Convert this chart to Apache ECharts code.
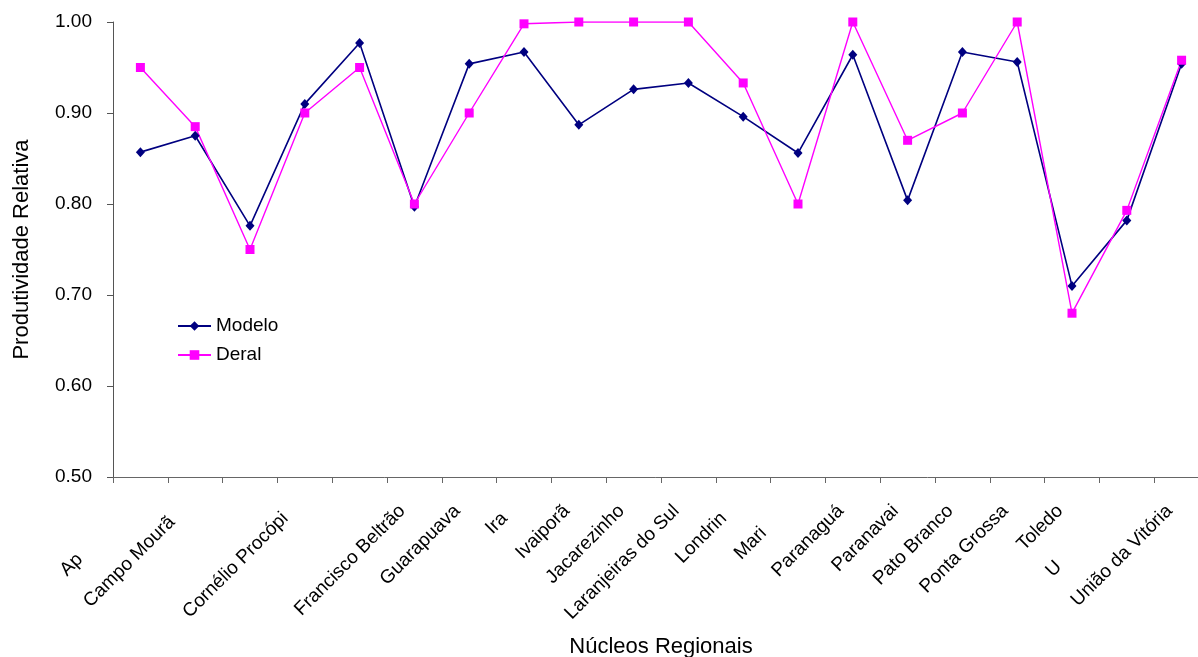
<!DOCTYPE html>
<html>
<head>
<meta charset="utf-8">
<script src="https://cdn.jsdelivr.net/npm/echarts@6/dist/echarts.min.js"></script>
<style>
html,body{margin:0;padding:0;background:#fff;}
#chart{width:1198px;height:657px;}
</style>
</head>
<body>
<div id="chart"></div>
<script>
// Categories (Núcleos Regionais)
var categories = ["Apucarana","Campo Mourão","Cascavel","Cornélio Procópio","Curitiba","Francisco Beltrão","Guarapuava","Irati","Ivaiporã","Jacarezinho","Laranjeiras do Sul","Londrina","Maringá","Paranaguá","Paranavai","Pato Branco","Ponta Grossa","Toledo","Umuarama","União da Vitória"];
// Tick labels as visible in the reference (some clipped / hidden)
var tickLabels = ["Ap","Campo Mourã","","Cornélio Procópi","","Francisco Beltrão","Guarapuava","Ira","Ivaiporã","Jacarezinho","Laranjeiras do Sul","Londrin","Mari","Paranaguá","Paranavai","Pato Branco","Ponta Grossa","Toledo","U","União da Vitória"];
// trailing blank count for clipped labels (keeps them where the full text would be)
var tickPad = [13,3,0,2,0,0,0,2,0,0,0,2,6,0,0,0,0,0,15,0];
var modelo = [0.857,0.875,0.776,0.910,0.977,0.797,0.954,0.967,0.887,0.926,0.933,0.896,0.856,0.964,0.804,0.967,0.956,0.710,0.782,0.954];
var deral  = [0.950,0.885,0.750,0.900,0.950,0.800,0.900,0.998,1.000,1.000,1.000,0.933,0.800,1.000,0.870,0.900,1.000,0.680,0.793,0.958];
var yTicks = {min:0.5, max:1.0, interval:0.1};

var FONT = "'Liberation Sans', Arial, sans-serif";
var chart = echarts.init(document.getElementById('chart'), null, {renderer:'canvas'});
chart.setOption({
  backgroundColor:'#ffffff',
  animation:false,
  grid:{left:113, width:1096, top:22, height:455, containLabel:false, outerBoundsMode:'none'},
  legend:{
    orient:'vertical', left:177, top:315, padding:0,
    itemWidth:33, itemHeight:12, itemGap:7,
    textStyle:{fontFamily:FONT, fontSize:19, color:'#000', lineHeight:22, padding:[0,0,0,0]},
    data:['Modelo','Deral']
  },
  xAxis:{
    type:'category', data:categories, boundaryGap:true,
    name:'Núcleos Regionais', nameLocation:'middle', nameGap:159,
    nameTextStyle:{fontFamily:FONT, fontSize:22, color:'#000'},
    axisLine:{show:true, lineStyle:{color:'#666', width:1}},
    axisTick:{show:true, length:6, inside:false, alignWithLabel:false, lineStyle:{color:'#666'}},
    axisLabel:{
      interval:0, rotate:45, margin:19, hideOverlap:false,
      padding:[0,17,0,0],
      fontFamily:FONT, fontSize:19, color:'#000',
      formatter:function(v, i){ return tickLabels[i] + '\u00a0'.repeat(tickPad[i]); }
    },
    splitLine:{show:false}
  },
  yAxis:{
    type:'value', min:yTicks.min, max:yTicks.max, interval:yTicks.interval,
    name:'Produtividade Relativa', nameLocation:'middle', nameGap:80,
    nameTextStyle:{fontFamily:FONT, fontSize:22, color:'#000'},
    axisLine:{show:true, lineStyle:{color:'#555', width:1}},
    axisTick:{show:true, length:6, inside:false, lineStyle:{color:'#555'}},
    axisLabel:{margin:21, fontFamily:FONT, fontSize:19, color:'#000',
      formatter:function(v){ return v.toFixed(2); }},
    splitLine:{show:false}
  },
  series:[
    {name:'Modelo', type:'line', data:modelo, symbol:'diamond', symbolSize:[9,10],
     showAllSymbol:true,
     lineStyle:{color:'#000080', width:1.6}, itemStyle:{color:'#000080'}},
    {name:'Deral', type:'line', data:deral, symbol:'rect', symbolSize:9,
     showAllSymbol:true,
     lineStyle:{color:'#FF00FF', width:1.4}, itemStyle:{color:'#FF00FF'}}
  ]
});
</script>
</body>
</html>
